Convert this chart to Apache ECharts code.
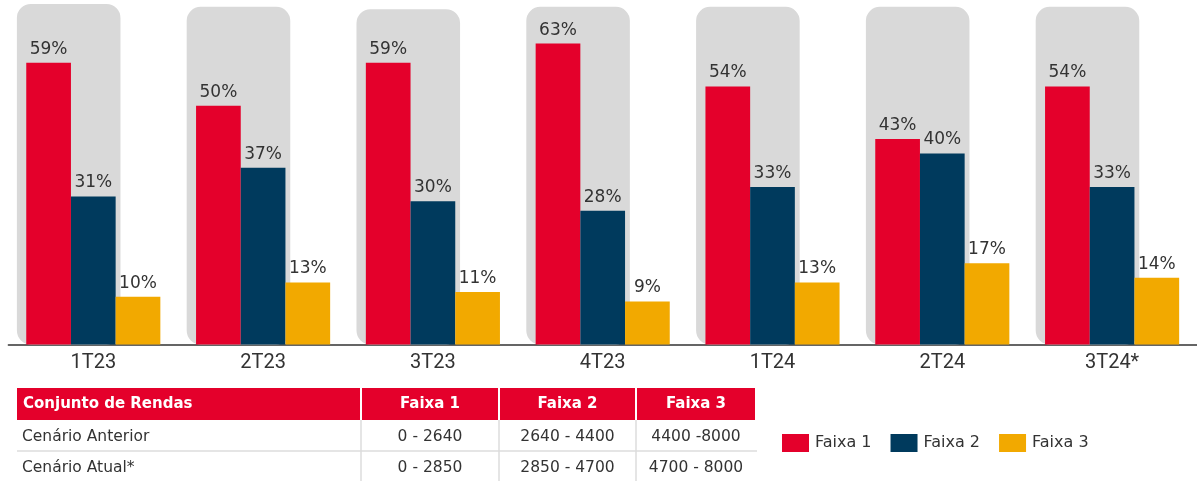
<!DOCTYPE html>
<html>
<head>
<meta charset="utf-8">
<script src="https://cdn.jsdelivr.net/npm/echarts@6/dist/echarts.min.js"></script>
<style>
html,body{margin:0;padding:0;background:#fff;}
#chart{width:1197px;height:481px;}
</style>
</head>
<body>
<div id="chart"></div>
<script>
const categories = ['1T23','2T23','3T23','4T23','1T24','2T24','3T24*'];
const seriesNames = ['Faixa 1','Faixa 2','Faixa 3'];
const faixa1 = [59,50,59,63,54,43,54];
const faixa2 = [31,37,30,28,33,40,33];
const faixa3 = [10,13,11,9,13,17,14];
const backgroundLevels = [71.3,70.7,70.2,70.7,70.7,70.7,70.7];

const tableHeader = ['Conjunto de Rendas','Faixa 1','Faixa 2','Faixa 3'];
const tableRows = [
  ['Cenário Anterior','0 - 2640','2640 - 4400','4400 -8000'],
  ['Cenário Atual*','0 - 2850','2850 - 4700','4700 - 8000']
];

const colors = ['#e4002b','#003a5d','#f2a900'];
const FONT = '"DejaVu Sans", sans-serif';

// Table layout
const colX = [[17,360],[362,498],[500,635],[637,755]];
const headerY = 388, headerH = 32, rowH = 31;
const graphics = [];
tableHeader.forEach((h,i)=>{
  const [x0,x1] = colX[i];
  graphics.push({type:'rect', shape:{x:x0,y:headerY,width:x1-x0,height:headerH}, style:{fill:'#e4002b'}});
  graphics.push({type:'text', x: i===0 ? x0+6 : (x0+x1)/2, y: headerY+headerH/2,
    style:{text:h, fill:'#fff', font:'bold 15px '+FONT, align: i===0?'left':'center', verticalAlign:'middle'}});
});
tableRows.forEach((row,r)=>{
  const y0 = headerY+headerH + r*rowH;
  row.forEach((t,i)=>{
    const [x0,x1] = colX[i];
    graphics.push({type:'text', x: i===0 ? x0+5 : (x0+x1)/2, y: y0+rowH/2+1,
      style:{text:t, fill:'#333', font:'15.5px '+FONT, align: i===0?'left':'center', verticalAlign:'middle'}});
  });
});
graphics.push({type:'line', shape:{x1:17,y1:headerY+headerH+rowH,x2:757,y2:headerY+headerH+rowH}, style:{stroke:'#dcdcdc',lineWidth:1.5}});
[361,499,636].forEach(x=>{
  graphics.push({type:'line', shape:{x1:x,y1:headerY+headerH,x2:x,y2:481}, style:{stroke:'#dcdcdc',lineWidth:1.5}});
});

const chart = echarts.init(document.getElementById('chart'));
const labelStyle = {show:true, position:'top', distance:5, color:'#333', fontSize:17, fontFamily:FONT, formatter:'{c}%'};
const barSeries = [faixa1, faixa2, faixa3].map((d,i)=>({
  type:'bar', name:seriesNames[i], data:d, barWidth:44.7, barGap:'0%', z:2,
  itemStyle:{color:colors[i]}, label:labelStyle
}));
chart.setOption({
  animation:false,
  grid:{left:8.4, width:1194, top:0.6, height:343.9},
  legend:{
    data: seriesNames, left:782, top:434, padding:0, itemWidth:27, itemHeight:18, itemGap:19, icon:'rect',
    textStyle:{fontSize:16, color:'#333', fontFamily:FONT, padding:[0,0,0,1]}
  },
  xAxis:{
    type:'category', data:categories,
    axisLine:{lineStyle:{color:'#333', width:1.5}},
    axisTick:{show:false},
    axisLabel:{fontSize:20, color:'#333', fontFamily:'Roboto, sans-serif', margin:8}
  },
  yAxis:{type:'value', min:0, max:72, show:false, splitLine:{show:false}},
  series:[
    {
      type:'custom', name:'bg', silent:true, z:1,
      data: backgroundLevels.map((v,i)=>[i,v]),
      encode:{x:0,y:1},
      renderItem:function(params, api){
        const c = api.value(0);
        const top = api.coord([c, api.value(1)]);
        const base = api.coord([c, 0]);
        const band = api.size([1,0])[0];
        const w = band*0.61;
        const cx = top[0] - band*0.145;
        return {type:'rect', shape:{x:cx-w/2, y:top[1], width:w, height:base[1]-top[1], r:14}, style:{fill:'#d9d9d9'}};
      }
    }
  ].concat(barSeries),
  graphic: graphics
});
</script>
</body>
</html>
